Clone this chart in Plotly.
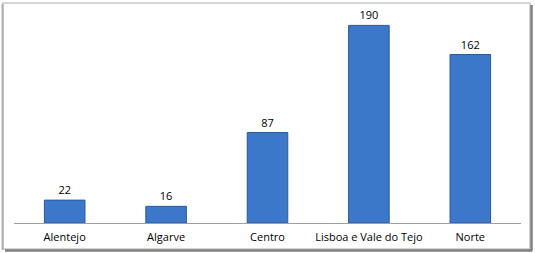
import plotly.graph_objects as go

categories = ["Alentejo", "Algarve", "Centro", "Lisboa e Vale do Tejo", "Norte"]
values = [22, 16, 87, 190, 162]

W, H = 535, 253
L, R, T, B = 14, 14, 15, 30
pw = W - L - R
ph = H - T - B

def px(x):
    return (x - L) / pw

def py(y):
    return (H - B - y) / ph

fig = go.Figure(go.Bar(
    x=categories, y=values,
    width=0.4,
    marker=dict(color="#3B78CA", line=dict(color="#2A5A9A", width=1)),
    text=values, textposition="outside",
    textfont=dict(family="Open Sans", size=11, color="#000000"),
    cliponaxis=False,
))

shapes = [
    dict(type="rect", xref="paper", yref="paper",
         x0=px(3), x1=px(530), y0=py(249), y1=py(3),
         line=dict(color="#C8C8C8", width=1.5), fillcolor="rgba(0,0,0,0)", layer="below"),
    dict(type="line", xref="paper", yref="paper",
         x0=px(531.5), x1=px(531.5), y0=py(251), y1=py(5),
         line=dict(color="#7F7F7F", width=2.5)),
    dict(type="line", xref="paper", yref="paper",
         x0=px(5), x1=px(532), y0=py(250.5), y1=py(250.5),
         line=dict(color="#7F7F7F", width=2.5)),
    dict(type="line", xref="paper", yref="paper",
         x0=px(2.5), x1=px(2.5), y0=py(250), y1=py(4),
         line=dict(color="#B0B0B0", width=2)),
]

fig.update_layout(
    width=W, height=H,
    margin=dict(l=L, r=R, t=T, b=B, autoexpand=False),
    paper_bgcolor="white", plot_bgcolor="white",
    showlegend=False,
    shapes=shapes,
    font=dict(family="Open Sans", size=11, color="#000000"),
    xaxis=dict(showline=True, linecolor="#A0A0A0", linewidth=1, ticks="",
               showgrid=False, tickfont=dict(size=11), ticklabelstandoff=4,
               automargin=False),
    yaxis=dict(range=[0, 200], visible=False, showgrid=False, zeroline=False,
               automargin=False),
)

fig.write_html("out.html")
